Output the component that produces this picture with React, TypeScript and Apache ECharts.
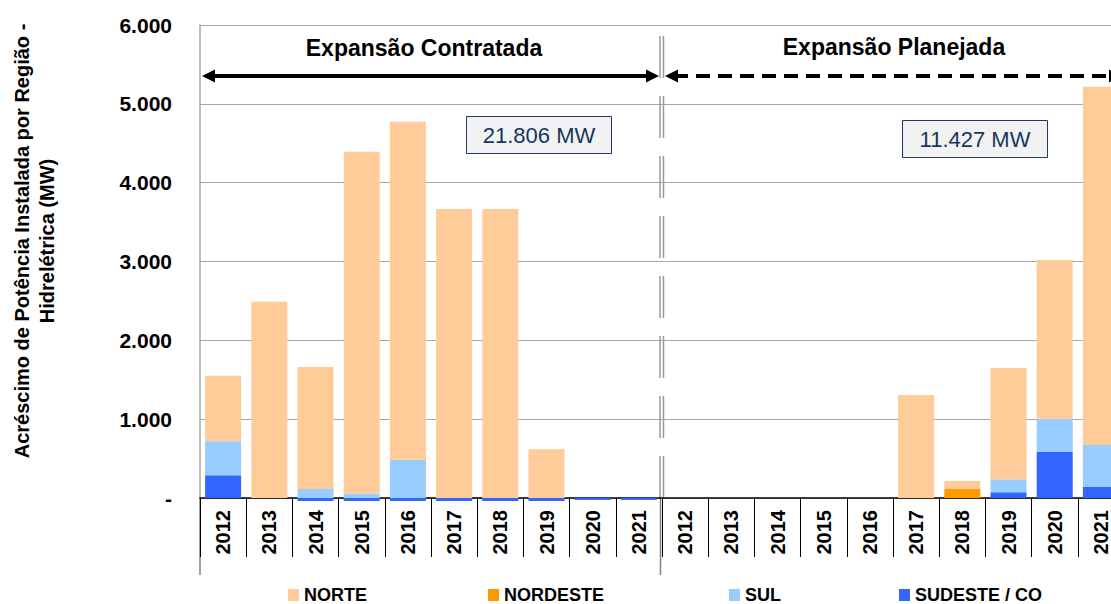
import React, { useEffect, useRef } from "react";
import * as echarts from "echarts";

const categories = [
  "2012", "2013", "2014", "2015", "2016", "2017", "2018", "2019", "2020", "2021",
  "2012", "2013", "2014", "2015", "2016", "2017", "2018", "2019", "2020", "2021",
];
const norte = [830, 2490, 1548, 4336, 4286, 3667, 3667, 618, 0, 0, 0, 0, 0, 0, 0, 1307, 102, 1413, 2017, 4543];
const nordeste = [0, 0, 0, 0, 0, 0, 0, 0, 0, 0, 0, 0, 0, 0, 0, 0, 114, 0, 0, 0];
const sul = [430, 0, 114, 55, 486, 0, 0, 0, 0, 0, 0, 0, 0, 0, 0, 0, 0, 165, 415, 533];
const sudeste = [290, 0, -38, -38, -38, -38, -38, -38, -25, -25, 0, 0, 0, 0, 0, 0, 0, 72, 588, 140];
const yMax = 6000;
const yStep = 1000;
const groupTitles = ["Expansão Contratada", "Expansão Planejada"];
const totals = ["21.806 MW", "11.427 MW"];
const yAxisTitle = "Acréscimo de Potência Instalada por Região -\nHidrelétrica (MW)";

const FONT = "'Liberation Sans', Arial, Helvetica, sans-serif";
const COLORS = {
  NORTE: "#FFCC99",
  NORDESTE: "#FF9900",
  SUL: "#99CCFF",
  "SUDESTE / CO": "#3366FF",
};

function fmt(v: number) {
  if (v === 0) return "-";
  return String(v).replace(/\B(?=(\d{3})+(?!\d))/g, ".");
}

export default function App() {
  const ref = useRef<HTMLDivElement>(null);
  useEffect(() => {
    document.body.style.margin = "0";
    document.body.style.overflow = "hidden";
    document.documentElement.style.overflow = "hidden";
    const chart = echarts.init(ref.current!, null, { renderer: "svg" });
    const mk = (name: string, data: number[]) => ({
      name,
      type: "bar",
      stack: "total",
      data,
      clip: false,
      barWidth: "78%",
      itemStyle: { color: (COLORS as any)[name] },
      emphasis: { disabled: true },
    });
    const legendPos: [string, number][] = [
      ["NORTE", 288],
      ["NORDESTE", 488],
      ["SUL", 729],
      ["SUDESTE / CO", 899],
    ];
    chart.setOption({
      animation: false,
      textStyle: { fontFamily: FONT },
      grid: { left: 200, top: 25, right: 0, bottom: 106, containLabel: false },
      legend: legendPos.map(([n, x]) => ({
        data: [n],
        left: x,
        top: 586,
        padding: 0,
        itemWidth: 11,
        itemHeight: 12,
        icon: "rect",
        itemGap: 5,
        selectedMode: false,
        textStyle: { fontFamily: FONT, fontSize: 18, fontWeight: "bold", color: "#000", padding: [0, 0, 0, 0] },
      })),
      xAxis: {
        type: "category",
        data: categories,
        boundaryGap: true,
        axisLine: { lineStyle: { color: "#000", width: 1.5 } },
        axisTick: { show: true, interval: 0, length: 59, lineStyle: { color: "#000", width: 1 } },
        axisLabel: {
          interval: 0,
          rotate: 90,
          margin: 12,
          fontFamily: FONT,
          fontSize: 20,
          fontWeight: "bold",
          color: "#000",
        },
      },
      yAxis: {
        type: "value",
        min: 0,
        max: yMax,
        interval: yStep,
        axisLine: { show: true, lineStyle: { color: "#a6a6a6", width: 1.5 } },
        axisTick: { show: false },
        splitLine: { lineStyle: { color: "#a6a6a6", width: 1 } },
        axisLabel: {
          margin: 28,
          fontFamily: FONT,
          fontSize: 21,
          fontWeight: "bold",
          color: "#000",
          formatter: (v: number) => fmt(v),
        },
      },
      series: [
        mk("SUDESTE / CO", sudeste),
        mk("SUL", sul),
        mk("NORDESTE", nordeste),
        mk("NORTE", norte),
      ],
    });

    const cx = (i: number) => chart.convertToPixel({ xAxisIndex: 0 }, i) as unknown as number;
    const py = (v: number) => chart.convertToPixel({ yAxisIndex: 0 }, v) as unknown as number;
    const cw = cx(1) - cx(0);
    const L = cx(0) - cw / 2;
    const D = cx(9) + cw / 2;
    const R = cx(19) + cw / 2;
    const y0 = py(0);
    const bottomLine = 575;
    const arrowY = 76;
    const head = (tip: number, dir: number) => ({
      type: "polygon",
      shape: {
        points: [
          [tip, arrowY],
          [tip + dir * 13, arrowY - 6.5],
          [tip + dir * 13, arrowY + 6.5],
        ],
      },
      style: { fill: "#000" },
      silent: true,
    });
    const graphic: any[] = [
      {
        type: "text",
        x: 34,
        y: 241,
        rotation: Math.PI / 2,
        style: {
          text: yAxisTitle,
          font: `bold 20px ${FONT}`,
          fill: "#000",
          align: "center",
          verticalAlign: "middle",
          lineHeight: 25,
        },
        silent: true,
      },
      { type: "line", shape: { x1: L, y1: y0, x2: L, y2: bottomLine }, style: { stroke: "#808080", lineWidth: 1.5 }, silent: true },
      { type: "line", shape: { x1: D - 1.5, y1: y0, x2: D - 1.5, y2: bottomLine }, style: { stroke: "#808080", lineWidth: 1.5 }, silent: true },
      { type: "line", shape: { x1: D - 2, y1: 36, x2: D - 2, y2: y0 }, style: { stroke: "#999", lineWidth: 1.5, lineDash: [42, 18] }, silent: true },
      { type: "line", shape: { x1: D + 1.5, y1: 36, x2: D + 1.5, y2: y0 }, style: { stroke: "#999", lineWidth: 1.5, lineDash: [42, 18] }, silent: true },
      // solid arrow
      { type: "line", shape: { x1: L + 10, y1: arrowY, x2: D - 14, y2: arrowY }, style: { stroke: "#000", lineWidth: 4 }, silent: true },
      head(L + 2, 1),
      head(D - 3, -1),
      // dashed arrow
      { type: "line", shape: { x1: D + 12, y1: arrowY, x2: R - 10, y2: arrowY }, style: { stroke: "#000", lineWidth: 4, lineDash: [14, 8] }, silent: true },
      head(D + 3, 1),
      head(R - 2, -1),
      {
        type: "text",
        x: 424,
        y: 48,
        style: { text: groupTitles[0], font: `bold 23px ${FONT}`, fill: "#000", align: "center", verticalAlign: "middle" },
        silent: true,
      },
      {
        type: "text",
        x: 894,
        y: 47,
        style: { text: groupTitles[1], font: `bold 23px ${FONT}`, fill: "#000", align: "center", verticalAlign: "middle" },
        silent: true,
      },
      {
        type: "rect",
        shape: { x: 466.5, y: 116.5, width: 145, height: 37 },
        style: { fill: "#F2F2F2", stroke: "#1F3864", lineWidth: 1 },
        silent: true,
      },
      {
        type: "text",
        x: 539,
        y: 135,
        style: { text: totals[0], font: `22px ${FONT}`, fill: "#17365D", align: "center", verticalAlign: "middle" },
        silent: true,
      },
      {
        type: "rect",
        shape: { x: 902.5, y: 120.5, width: 145, height: 37 },
        style: { fill: "#F2F2F2", stroke: "#1F3864", lineWidth: 1 },
        silent: true,
      },
      {
        type: "text",
        x: 975,
        y: 139,
        style: { text: totals[1], font: `22px ${FONT}`, fill: "#17365D", align: "center", verticalAlign: "middle" },
        silent: true,
      },
    ];
    chart.setOption({ graphic });
    return () => chart.dispose();
  }, []);
  return <div ref={ref} style={{ width: 1124, height: 604 }} />;
}
